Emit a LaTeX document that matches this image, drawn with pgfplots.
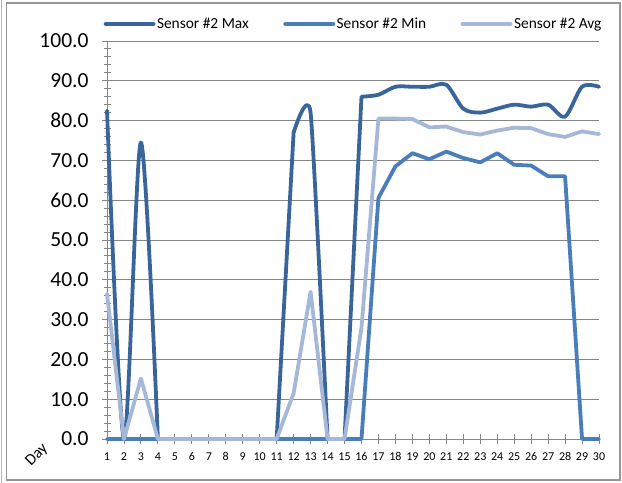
\documentclass[border=0pt]{standalone}
\usepackage{fontspec}
\setmainfont{Carlito}
\usepackage{pgfplots}
\pgfplotsset{compat=1.18}
\definecolor{cmax}{RGB}{58,101,154}
\definecolor{cmin}{RGB}{74,126,187}
\definecolor{cavg}{RGB}{166,184,215}
\definecolor{gridgray}{RGB}{134,134,134}
\definecolor{framegray}{RGB}{150,150,150}
\begin{document}
\begin{tikzpicture}[x=1bp,y=1bp]
\useasboundingbox (0,0) rectangle (622,483);
\draw[framegray, line width=1.2bp] (6.5,3) rectangle (620,480);
\draw[framegray!70, line width=1.2bp] (1.8,0) -- (1.8,483);
\begin{axis}[
  at={(107bp,44bp)}, anchor=south west,
  scale only axis, width=492bp, height=398bp,
  xmin=1, xmax=30, ymin=0, ymax=100,
  clip=false,
  axis lines*=left,
  axis line style={-, gridgray, line width=0.9bp},
  xtick={1,...,30},
  ytick={0,10,...,100},
  minor y tick num=4,
  ymajorgrids,
  grid style={gridgray, line width=0.9bp},
  tick style={gridgray, line width=0.9bp},
  tick align=center,
  major tick length=10bp,
  minor tick length=7bp,
  /pgf/number format/assume math mode=true,
  yticklabel style={font=\fontsize{21.5bp}{24bp}\selectfont, xshift=-10bp,
    /pgf/number format/fixed, /pgf/number format/fixed zerofill, /pgf/number format/precision=1},
  xticklabel style={font=\fontsize{12bp}{14bp}\selectfont, yshift=-5bp},
  legend columns=3,
  legend style={at={(-0.0071,1.0427)}, anchor=west, draw=none, fill=none, inner sep=0pt,
    font=\fontsize{15.4bp}{18bp}\selectfont,
    nodes={inner xsep=1.5bp, inner ysep=0bp},
    /tikz/every even column/.append style={column sep=33bp}},
  legend image code/.code={\draw[#1, line width=3.8bp, line cap=round] (0bp,0bp) -- (48bp,0bp);},
  every axis plot/.append style={line width=3.8bp, line join=round, line cap=round, mark=none},
]
% Sensor #2 Max (smoothed)
\addplot[cmax, smooth] coordinates {(1,82.5) (2,0) (3,74.5) (4,0)};
\addlegendentry{Sensor \#2 Max}
\addplot[cmax, forget plot] coordinates {(4,0) (5,0) (6,0) (7,0) (8,0) (9,0) (10,0) (11,0) (12,77)};
\addplot[cmax, smooth, tension=0.3, forget plot] coordinates {(12,77) (13,82) (14,0)};
\addplot[cmax, forget plot] coordinates {(14,0) (15,0) (16,86)};
\addplot[cmax, smooth, forget plot] coordinates {(16,86) (17,86.5) (18,88.5) (19,88.5) (20,88.5) (21,89) (22,83) (23,82) (24,83) (25,84) (26,83.5) (27,84) (28,81) (29,88.5) (30,88.5)};
% Sensor #2 Min
\addplot[cmin] coordinates {(1,0) (2,0) (3,0) (4,0) (5,0) (6,0) (7,0) (8,0) (9,0) (10,0) (11,0) (12,0) (13,0) (14,0) (15,0) (16,0) (17,60.6) (18,68.5) (19,71.8) (20,70.3) (21,72.2) (22,70.6) (23,69.5) (24,71.8) (25,68.9) (26,68.7) (27,66) (28,66) (29,0) (30,0)};
\addlegendentry{Sensor \#2 Min}
% Sensor #2 Avg
\addplot[cavg] coordinates {(1,36.5) (2,0) (3,15.2) (4,0) (5,0) (6,0) (7,0) (8,0) (9,0) (10,0) (11,0) (12,11.5) (13,37) (14,0) (15,0) (16,28) (17,80.5) (18,80.5) (19,80.4) (20,78.3) (21,78.5) (22,77.1) (23,76.5) (24,77.5) (25,78.2) (26,78.1) (27,76.6) (28,75.9) (29,77.3) (30,76.6)};
\addlegendentry{Sensor \#2 Avg}
\end{axis}
\node[rotate=45, font=\fontsize{16bp}{18bp}\selectfont] at (37bp,28bp) {Day};
\end{tikzpicture}
\end{document}
